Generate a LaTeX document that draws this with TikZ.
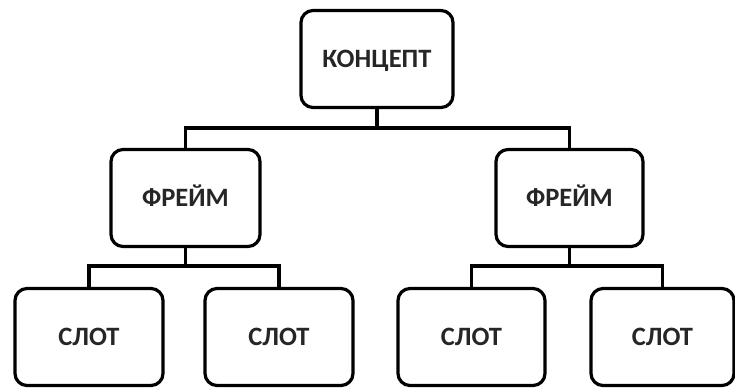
\documentclass[tikz,border=0pt]{standalone}
\usepackage{fontspec}
\setmainfont{Carlito}
\begin{document}
\begin{tikzpicture}[x=1pt,y=-1pt,
  box/.style={draw=black, line width=3.2pt, rounded corners=12pt, fill=white,
    minimum height=97pt, font=\fontsize{26.5}{30}\selectfont\bfseries, text=black!85,
    inner sep=0pt, text height=17pt, text depth=0pt},
  link/.style={draw=black, line width=3.2pt}]
\useasboundingbox (0,0) rectangle (735,388);
\node[box, minimum width=152pt] (concept) at (377,59) {КОНЦЕПТ};
\node[box, minimum width=149pt] (frameL) at (185.5,198) {ФРЕЙМ};
\node[box, minimum width=147pt] (frameR) at (569.5,198) {ФРЕЙМ};
\node[box, minimum width=148pt] (s1) at (89,337) {СЛОТ};
\node[box, minimum width=148pt] (s2) at (279,337) {СЛОТ};
\node[box, minimum width=147pt] (s3) at (471.5,337) {СЛОТ};
\node[box, minimum width=143pt] (s4) at (662.5,337) {СЛОТ};
\draw[link] (frameL.north) |- ++(0,-20) -| (frameR.north);
\draw[link] (concept.south) -- ++(0,21);
\draw[link] (s1.north) |- ++(0,-21) -| (s2.north);
\draw[link] (frameL.south) -- ++(0,20);
\draw[link] (s3.north) |- ++(0,-21) -| (s4.north);
\draw[link] (frameR.south) -- ++(0,20);
\end{tikzpicture}
\end{document}
